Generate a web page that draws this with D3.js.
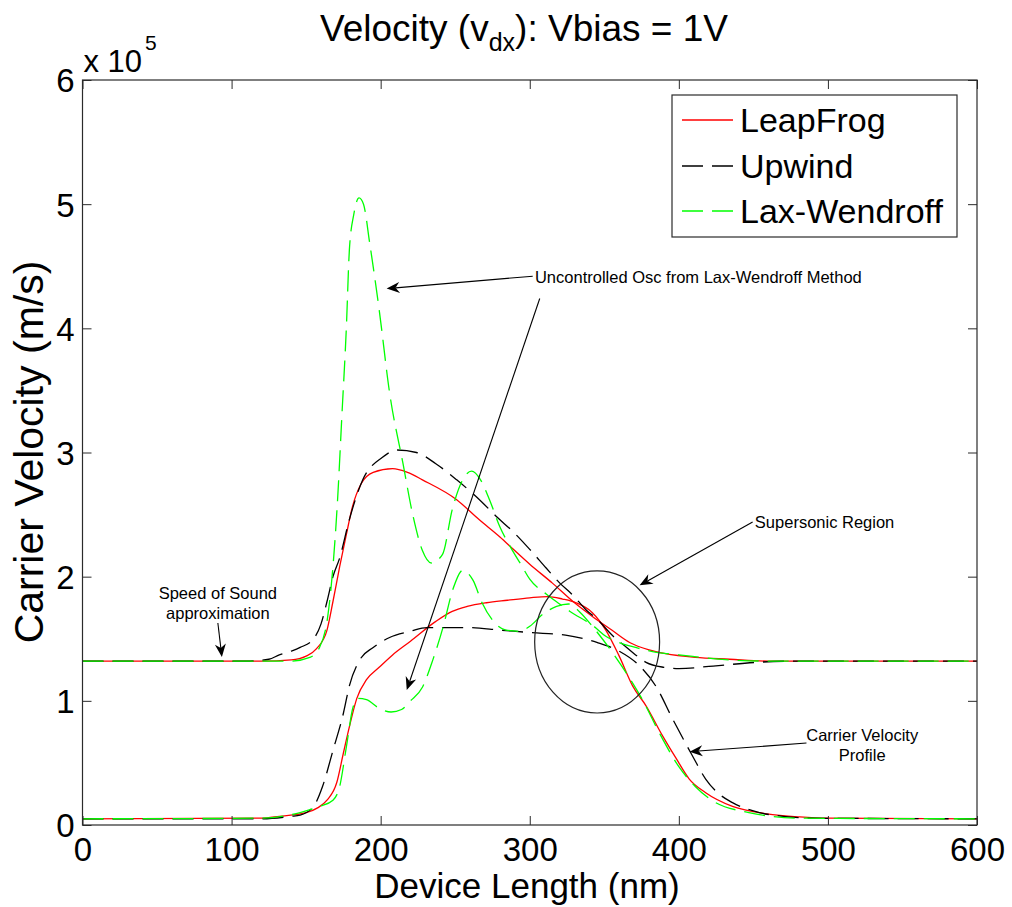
<!DOCTYPE html>
<html>
<head>
<meta charset="utf-8">
<script src="https://cdn.jsdelivr.net/npm/d3@7"></script>
<style>
  html, body { margin: 0; padding: 0; background: #fff; }
  svg { display: block; font-family: "Liberation Sans", Arial, Helvetica, sans-serif; }
</style>
</head>
<body>
<svg id="chart" width="1012" height="907"></svg>
<script>
// Carrier velocity along the device, in units of 1e5 m/s, as [position nm, velocity]
// Upper family: speed-of-sound approximation; lower family: carrier velocity profile.
const leapFrogSound = [
  [0,1.32],[120,1.32],[140,1.33],[150,1.36],[157,1.42],[164,1.57],[168,1.80],[172.5,2.08],
  [177,2.34],[181,2.56],[187,2.75],[195,2.84],[208,2.87],[218,2.84],[228,2.78],[251,2.62],
  [266,2.46],[280,2.32],[289,2.22],[300,2.10],[315,1.95],[329,1.80],[342,1.68],[355,1.57],
  [367,1.47],[380,1.41],[391,1.38],[411,1.35],[434,1.335],[460,1.32],[600,1.32]
];
const upwindSound = [
  [0,1.32],[110,1.32],[125,1.335],[132,1.37],[140,1.40],[146,1.43],[155,1.50],[160,1.62],
  [164,1.80],[168,2.00],[172.5,2.15],[179,2.46],[188,2.78],[201,2.96],[211,3.02],[224,3.00],
  [237,2.91],[251,2.78],[268,2.60],[278,2.48],[289,2.36],[300,2.22],[311,2.07],[320,1.95],
  [329,1.85],[338,1.73],[345,1.66],[356,1.52],[365,1.43],[371,1.37],[378,1.31],[390,1.27],
  [400,1.26],[423,1.28],[452,1.31],[480,1.32],[600,1.32]
];
const laxWendroffSound = [
  [0,1.32],[140,1.32],[152.5,1.35],[159,1.43],[164.5,1.68],[168,2.08],[171,2.60],[174,3.30],
  [177,4.01],[179,4.63],[182,4.92],[185.5,5.05],[188.5,5.00],[192.6,4.69],[199,4.15],[206,3.48],
  [215,2.91],[221.5,2.50],[228,2.21],[234,2.11],[241.5,2.18],[248,2.54],[255,2.78],[261,2.85],
  [267,2.78],[273,2.62],[280,2.40],[287,2.24],[294,2.10],[300,1.98],[311,1.86],[320,1.78],
  [327,1.72],[343,1.60],[351,1.52],[360,1.47],[371,1.43],[385,1.39],[400,1.37],[434,1.33],
  [460,1.32],[600,1.32]
];
const leapFrogCarrier = [
  [0,0.05],[120,0.055],[132,0.07],[150,0.10],[158,0.14],[164,0.20],[170.5,0.34],[175,0.58],
  [179,0.79],[184,1.02],[190.5,1.17],[199,1.27],[208,1.37],[220,1.48],[237,1.64],[248,1.72],
  [258,1.76],[271,1.79],[285,1.81],[300,1.83],[312,1.84],[322,1.82],[331,1.79],[342,1.71],
  [351,1.57],[360,1.36],[369,1.12],[378,0.96],[389,0.72],[398,0.54],[407,0.37],[418,0.26],
  [436,0.15],[459,0.09],[481,0.065],[500,0.055],[600,0.05]
];
const upwindCarrier = [
  [0,0.05],[120,0.05],[140,0.07],[146,0.08],[155,0.15],[161,0.31],[168,0.60],[175,0.90],
  [179,1.12],[186,1.33],[195,1.43],[206,1.51],[220,1.56],[231,1.59],[258,1.59],[280,1.57],
  [300,1.55],[324,1.53],[345,1.47],[360,1.40],[372,1.30],[385,1.11],[396,0.85],[409,0.56],
  [418,0.37],[427,0.25],[436,0.18],[454,0.10],[470,0.07],[490,0.055],[600,0.05]
];
const laxWendroffCarrier = [
  [0,0.05],[120,0.055],[146,0.10],[159,0.15],[168,0.20],[172.5,0.31],[177,0.63],[181.5,0.95],
  [185,1.02],[190.5,1.01],[199,0.94],[207,0.91],[214,0.93],[220,1.00],[228,1.11],[235,1.33],
  [242,1.60],[248.5,1.90],[255,2.05],[262,1.97],[268,1.79],[275,1.65],[284,1.57],[293,1.56],
  [300,1.60],[309,1.70],[318,1.76],[326,1.78],[334,1.71],[342,1.60],[356,1.38],[365,1.22],
  [376,1.00],[387,0.74],[400,0.47],[411,0.31],[422,0.20],[447,0.10],[481,0.055],[600,0.05]
];

const methodNames = ["LeapFrog", "Upwind", "Lax-Wendroff"];
const xTicks = [0, 100, 200, 300, 400, 500, 600];
const yTicks = [0, 1, 2, 3, 4, 5, 6];

// ---- layout ----
const svg = d3.select("#chart");
const plot = { left: 82.5, right: 977, top: 80, bottom: 825 };
const x = d3.scaleLinear().domain([0, 600]).range([plot.left, plot.right]);
const y = d3.scaleLinear().domain([0, 6]).range([plot.bottom, plot.top]);

const styles = {
  "LeapFrog":     { color: "#ff0000", dash: null },
  "Upwind":       { color: "#000000", dash: "21,9" },
  "Lax-Wendroff": { color: "#00ff00", dash: "21,9" }
};

const series = [
  { method: "LeapFrog", data: leapFrogSound },
  { method: "LeapFrog", data: leapFrogCarrier },
  { method: "Upwind", data: upwindSound },
  { method: "Upwind", data: upwindCarrier },
  { method: "Lax-Wendroff", data: laxWendroffSound },
  { method: "Lax-Wendroff", data: laxWendroffCarrier }
];

const line = d3.line()
  .x(d => x(d[0]))
  .y(d => y(d[1]))
  .curve(d3.curveMonotoneX);

// ---- curves ----
svg.append("g").attr("class", "curves")
  .selectAll("path")
  .data(series)
  .join("path")
  .attr("d", d => line(d.data))
  .attr("fill", "none")
  .attr("stroke", d => styles[d.method].color)
  .attr("stroke-width", 1.3)
  .attr("stroke-dasharray", d => styles[d.method].dash);

// ---- axes (ticks point inward, box on) ----
const axisColor = "#2b2b2b";
const tickLen = 9;
function styleAxis(g, fontSize) {
  g.select(".domain").remove();
  g.selectAll(".tick line").attr("stroke", axisColor).attr("stroke-width", 1);
  g.selectAll(".tick text").attr("fill", "#000").attr("font-size", fontSize)
    .attr("font-family", "Liberation Sans, Arial, sans-serif");
}
svg.append("g").attr("transform", `translate(0,${plot.bottom})`)
  .call(d3.axisBottom(x).tickValues(xTicks).tickSize(-tickLen).tickPadding(13).tickFormat(d3.format("d")))
  .call(g => styleAxis(g, 33));
svg.append("g").attr("transform", `translate(${plot.left},0)`)
  .call(d3.axisLeft(y).tickValues(yTicks).tickSize(-tickLen).tickPadding(8).tickFormat(d3.format("d")))
  .call(g => styleAxis(g, 33))
  .call(g => g.selectAll(".tick text").attr("dy", "0.36em"));
svg.append("g").attr("transform", `translate(0,${plot.top})`)
  .call(d3.axisTop(x).tickValues(xTicks).tickSize(-tickLen).tickFormat(""))
  .call(g => styleAxis(g, 0));
svg.append("g").attr("transform", `translate(${plot.right},0)`)
  .call(d3.axisRight(y).tickValues(yTicks).tickSize(-tickLen).tickFormat(""))
  .call(g => styleAxis(g, 0));
svg.append("rect")
  .attr("x", plot.left).attr("y", plot.top)
  .attr("width", plot.right - plot.left).attr("height", plot.bottom - plot.top)
  .attr("fill", "none").attr("stroke", axisColor).attr("stroke-width", 1.2);

// exponent label
const expo = svg.append("text").attr("x", plot.left + 1).attr("y", 72)
  .attr("font-size", 31).attr("fill", "#000");
expo.append("tspan").text("x 10");
expo.append("tspan").attr("font-size", 21).attr("dy", -22).attr("dx", 3).text("5");

// ---- titles ----
const title = svg.append("text").attr("x", 524).attr("y", 41)
  .attr("text-anchor", "middle").attr("font-size", 37).attr("fill", "#000");
title.append("tspan").text("Velocity (v");
title.append("tspan").attr("font-size", 25).attr("dy", 10).text("dx");
title.append("tspan").attr("dy", -10).text("): Vbias = 1V");

svg.append("text").attr("x", 527).attr("y", 898)
  .attr("text-anchor", "middle").attr("font-size", 35).attr("fill", "#000")
  .text("Device Length (nm)");

svg.append("text")
  .attr("transform", `translate(43,452) rotate(-90)`)
  .attr("text-anchor", "middle").attr("font-size", 41).attr("fill", "#000")
  .text("Carrier Velocity (m/s)");

// ---- legend ----
const legend = svg.append("g").attr("class", "legend");
legend.append("rect")
  .attr("x", 672).attr("y", 95).attr("width", 285).attr("height", 142)
  .attr("fill", "#fff").attr("stroke", axisColor).attr("stroke-width", 1.2);
const rowY = [120, 166, 211];
methodNames.forEach((name, i) => {
  legend.append("line")
    .attr("x1", 682).attr("x2", 733).attr("y1", rowY[i]).attr("y2", rowY[i])
    .attr("stroke", styles[name].color).attr("stroke-width", 1.3)
    .attr("stroke-dasharray", styles[name].dash);
  legend.append("text")
    .attr("x", 740).attr("y", rowY[i] + 12)
    .attr("font-size", 34).attr("fill", "#000")
    .text(name);
});

// ---- annotations (anchored in data coordinates) ----
const notes = svg.append("g").attr("class", "annotations");
function arrow(from, to) {
  const x0 = x(from[0]), y0 = y(from[1]), x1 = x(to[0]), y1 = y(to[1]);
  const len = Math.hypot(x1 - x0, y1 - y0);
  const ux = (x1 - x0) / len, uy = (y1 - y0) / len;
  const nx = -uy, ny = ux;
  const L = 13, W = 5.5, notch = 4;
  notes.append("line")
    .attr("x1", x0).attr("y1", y0).attr("x2", x1 - ux * (L - notch)).attr("y2", y1 - uy * (L - notch))
    .attr("stroke", "#000").attr("stroke-width", 1.1);
  const pts = [
    [x1, y1],
    [x1 - L * ux + W * nx, y1 - L * uy + W * ny],
    [x1 - (L - notch) * ux, y1 - (L - notch) * uy],
    [x1 - L * ux - W * nx, y1 - L * uy - W * ny]
  ];
  notes.append("path").attr("d", "M" + pts.map(p => p.join(",")).join("L") + "Z")
    .attr("fill", "#000");
}
function note(lines, at, anchor, gap) {
  lines.forEach((t, i) => {
    notes.append("text")
      .attr("x", x(at[0])).attr("y", y(at[1]) + i * gap)
      .attr("dy", "0.35em")
      .attr("text-anchor", anchor)
      .attr("font-size", 16.5).attr("fill", "#000")
      .text(t);
  });
}

note(["Uncontrolled Osc from Lax-Wendroff Method"], [303.5, 4.41], "start", 0);
arrow([302, 4.42], [204, 4.32]);
arrow([306.7, 4.24], [217.5, 1.087]);

note(["Supersonic Region"], [451, 2.44], "start", 0);
arrow([449.5, 2.44], [373.7, 1.93]);
notes.append("ellipse")
  .attr("cx", x(345.2)).attr("cy", y(1.474))
  .attr("rx", x(345.2 + 41.9) - x(345.2)).attr("ry", y(1.474) - y(1.474 + 0.572))
  .attr("fill", "none").attr("stroke", "#222").attr("stroke-width", 1.2);

note(["Carrier Velocity", "Profile"], [523, 0.725], "middle", 20);
arrow([485.6, 0.66], [407.2, 0.59]);

note(["Speed of Sound", "approximation"], [90.8, 1.868], "middle", 20);
arrow([90.8, 1.627], [93.5, 1.353]);
</script>
</body>
</html>
